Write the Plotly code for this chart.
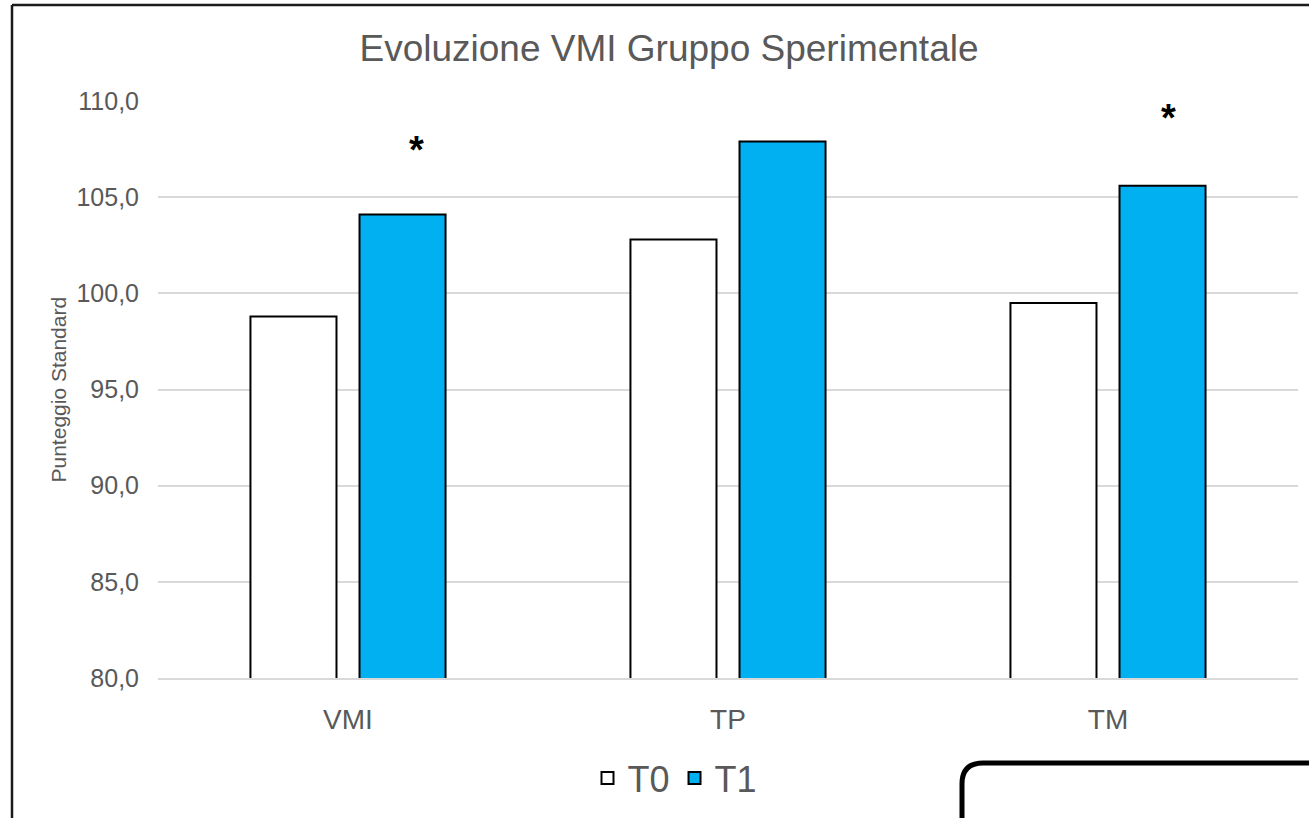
import plotly.graph_objects as go

categories = ["VMI", "TP", "TM"]
t0_values = [98.8, 102.8, 99.5]
t1_values = [104.1, 107.9, 105.6]
series_names = ["T0", "T1"]
y_ticks = [80, 85, 90, 95, 100, 105, 110]
y_tick_labels = ["80,0", "85,0", "90,0", "95,0", "100,0", "105,0", "110,0"]
# significance markers: (category position, value level)
sig_marks = [(0.18, 107.7), (2.16, 109.4)]

W, H = 1309, 818
ML, MR, MT, MB = 158, 11, 101, 140
PW, PH = W - ML - MR, H - MT - MB


def px(x):
    return (x - ML) / PW


def py(y):
    return (H - MB - y) / PH


GRAY = "#595959"
FONT = "Liberation Sans, Arial, sans-serif"

fig = go.Figure()
fig.add_trace(go.Bar(
    x=categories, y=t0_values, name=series_names[0],
    marker=dict(color="#FFFFFF", line=dict(color="#000000", width=2)),
))
fig.add_trace(go.Bar(
    x=categories, y=t1_values, name=series_names[1],
    marker=dict(color="#00B0F0", line=dict(color="#000000", width=2)),
))

for xv, yv in sig_marks:
    fig.add_annotation(x=xv, y=yv, xref="x", yref="y", text="<b>*</b>", showarrow=False,
                       font=dict(family=FONT, size=38, color="#000000"),
                       yanchor="middle", yshift=-5)

fig.add_annotation(x=px(58), y=0.5, xref="paper", yref="paper", text="Punteggio Standard",
                   textangle=-90, showarrow=False, xanchor="center", yanchor="middle",
                   font=dict(family=FONT, size=21, color=GRAY))

# outer chart frame (left and top edges visible)
fig.add_shape(type="line", xref="paper", yref="paper", x0=px(12), x1=px(12), y0=py(830), y1=py(5),
              line=dict(color="#1a1a1a", width=2.5))
fig.add_shape(type="line", xref="paper", yref="paper", x0=px(12), x1=px(1320), y0=py(5), y1=py(5),
              line=dict(color="#1a1a1a", width=2.5))

# rounded box at bottom right
x0, ytop, r = 962, 763, 21
path = (f"M {px(x0)},{py(830)} L {px(x0)},{py(ytop + r)} "
        f"Q {px(x0)},{py(ytop)} {px(x0 + r)},{py(ytop)} L {px(1320)},{py(ytop)}")
fig.add_shape(type="path", xref="paper", yref="paper", path=path,
              line=dict(color="#000000", width=5))

fig.update_layout(
    width=W, height=H,
    margin=dict(l=ML, r=MR, t=MT, b=MB, autoexpand=False),
    paper_bgcolor="#FFFFFF", plot_bgcolor="#FFFFFF",
    barmode="group", bargap=0.426, bargroupgap=0.211,
    title=dict(text="Evoluzione VMI Gruppo Sperimentale", x=669 / W, xref="container", xanchor="center",
               y=1 - 48 / H, yref="container", yanchor="middle",
               font=dict(family=FONT, size=37, color=GRAY)),
    font=dict(family=FONT, color=GRAY),
    showlegend=True,
    legend=dict(orientation="h", x=px(675), xanchor="center", y=py(778), yanchor="middle",
                font=dict(family=FONT, size=36, color=GRAY), bgcolor="rgba(0,0,0,0)",
                itemwidth=30, tracegroupgap=0),
    xaxis=dict(showgrid=False, showline=True, linecolor="#D9D9D9", linewidth=2,
               tickfont=dict(family=FONT, size=28, color=GRAY), ticks="", ticklabelstandoff=15),
    yaxis=dict(range=[80, 110], tickvals=y_ticks, ticktext=y_tick_labels,
               showgrid=True, gridcolor="#D9D9D9", gridwidth=1.5, zeroline=False, showline=False,
               tickfont=dict(family=FONT, size=25, color=GRAY), ticks="", ticklabelstandoff=18),
)

fig.write_html("out.html", config={"displayModeBar": False},
               post_script="document.body.style.margin='0';document.body.style.padding='0';")
